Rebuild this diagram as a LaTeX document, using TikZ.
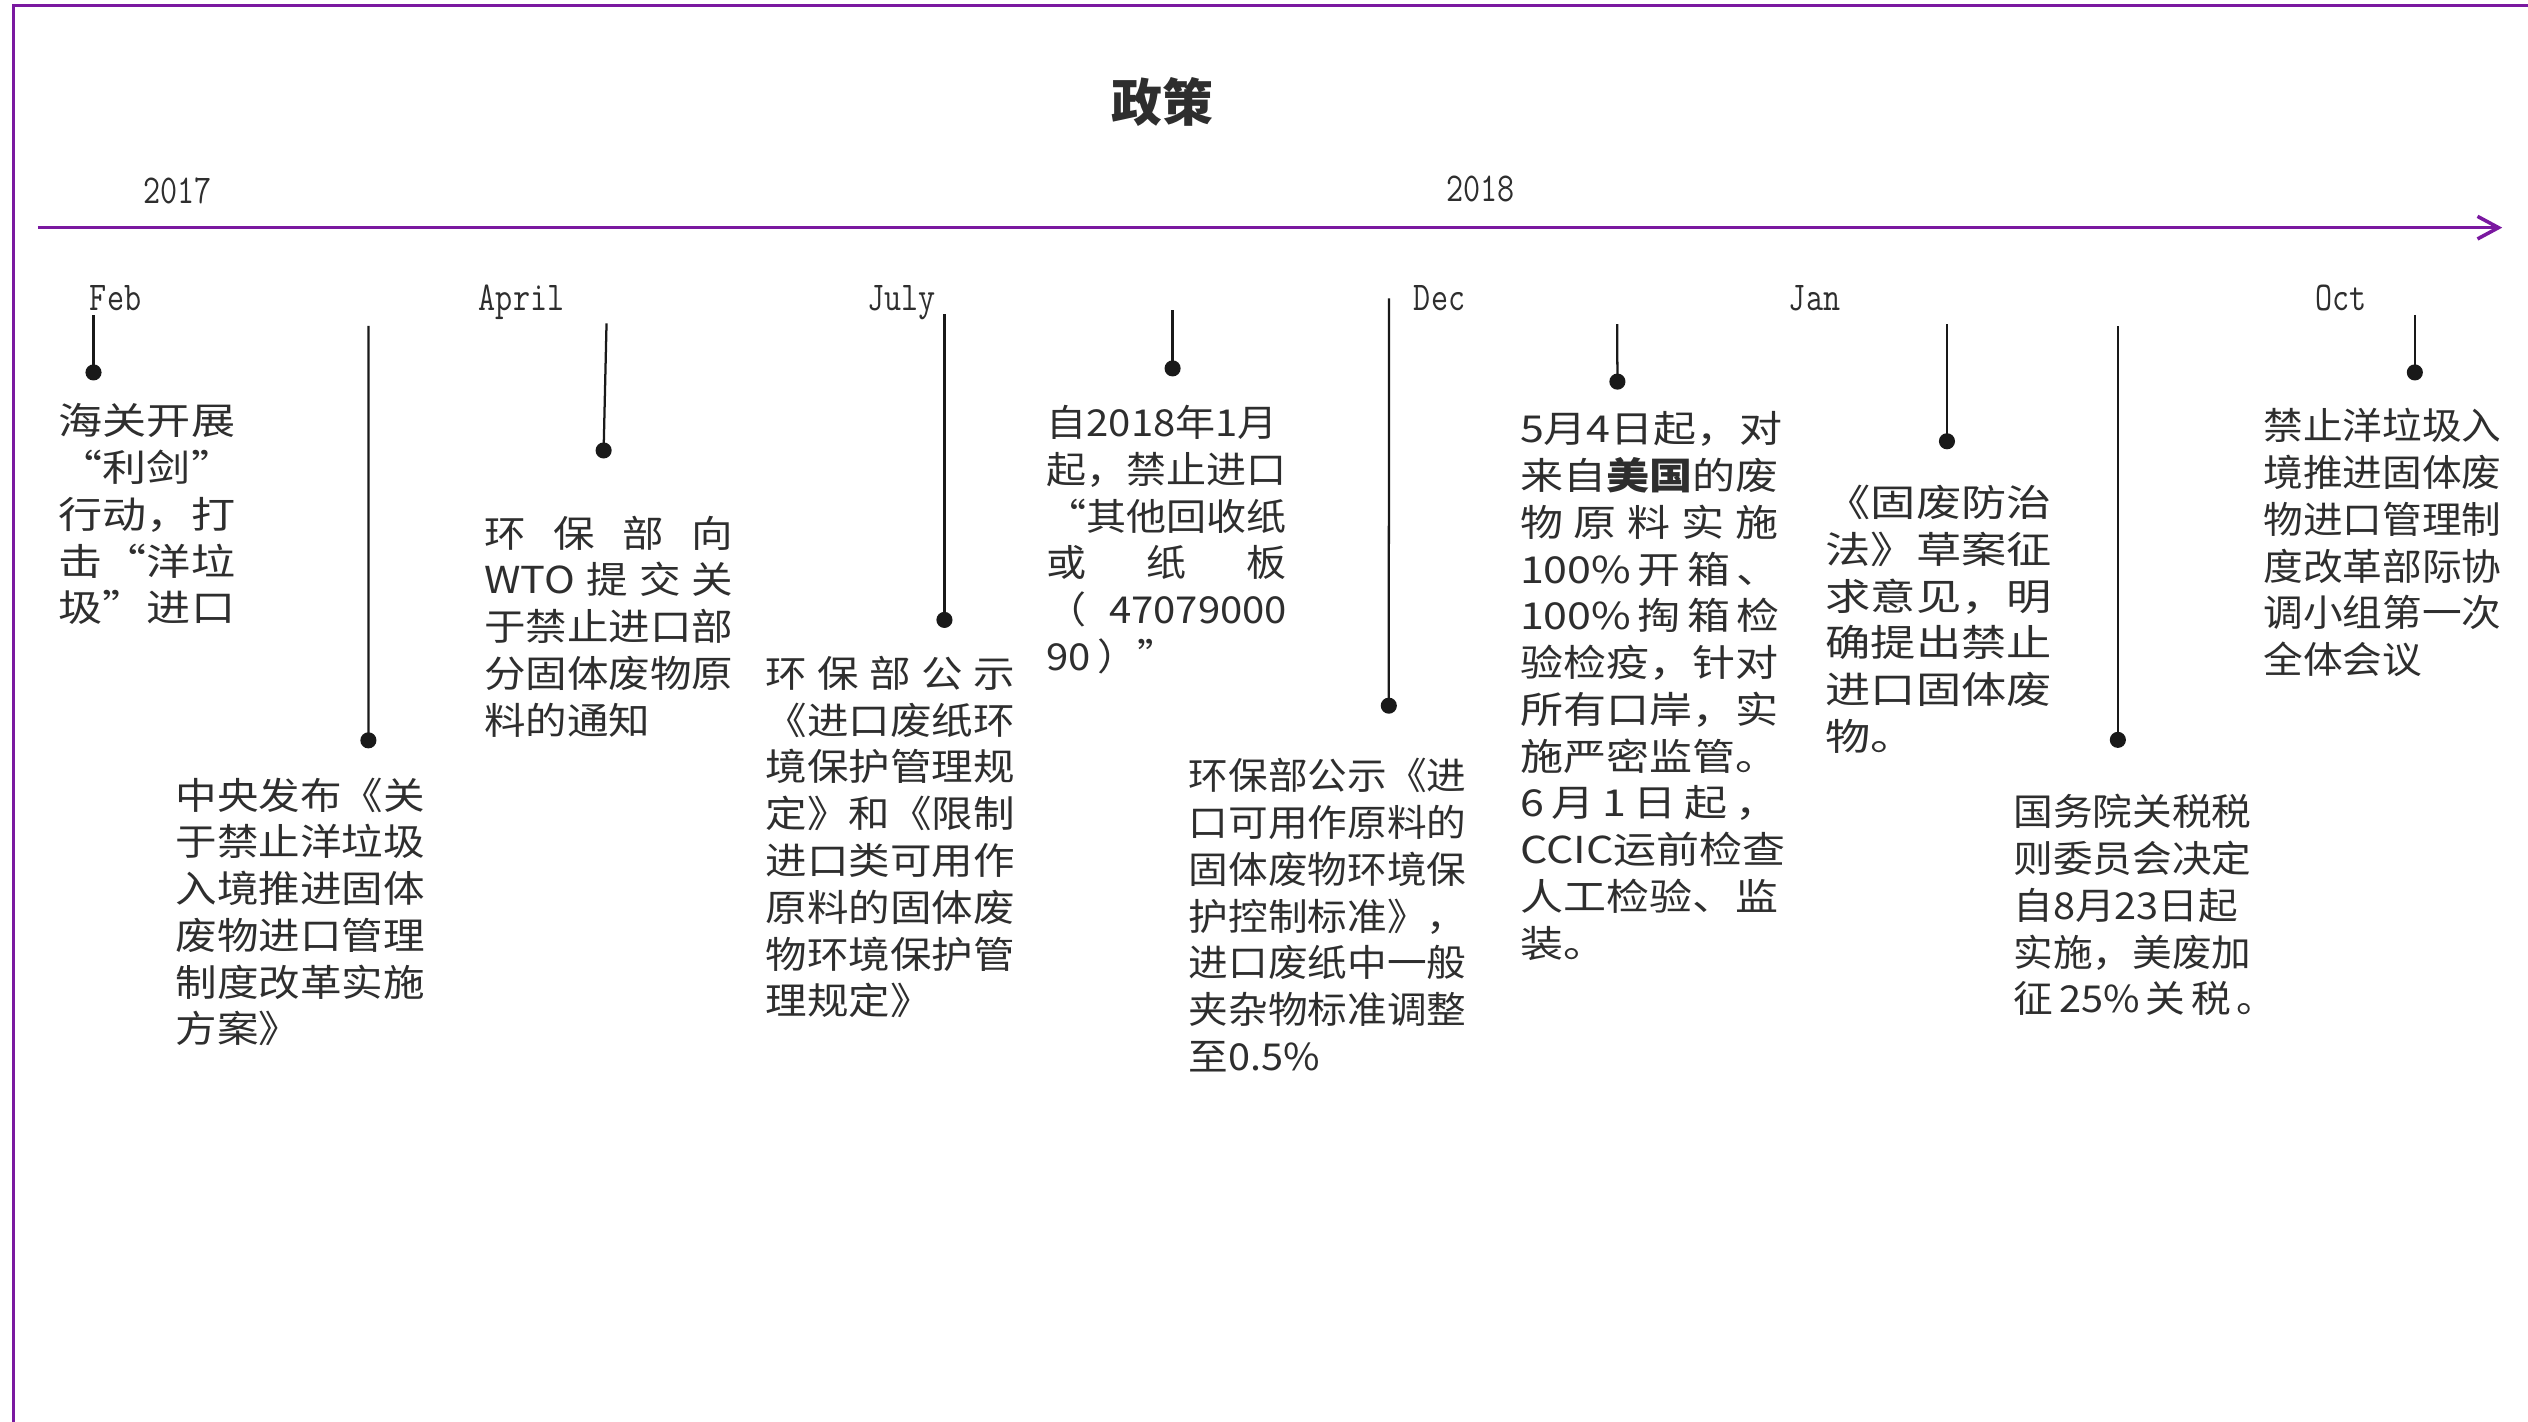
\documentclass[tikz,border=0pt]{standalone}
\usepackage{fontspec}
\usepackage{graphicx}
\usetikzlibrary{arrows.meta}
\newfontfamily\cjk{Noto Sans CJK SC}
\definecolor{framepurple}{RGB}{122,24,160}
\definecolor{txt}{HTML}{2E2E2E}
\newlength\cw
\newcommand\evfont[1]{\cjk\fontsize{11.5}{14.5}\selectfont\addfontfeatures{FakeStretch=#1}\settowidth\cw{国}}
\newcommand\spr[2]{\makebox[#1\cw][s]{#2}}
\newcommand\ql{\makebox[\cw][r]{“}}
\newcommand\qr{\makebox[\cw][l]{”}}
\newcommand\mon[1]{\scalebox{0.81}[1]{\ttfamily\fontsize{12.7}{14}\selectfont #1}}
\begin{document}
\begin{tikzpicture}[x=0.5pt,y=-0.5pt,
  frameline/.style={draw=framepurple, line width=0.9pt},
  axisline/.style={draw=framepurple, line width=1.1pt, -{Straight Barb[length=6.5pt,width=7pt]}},
  pin/.style={draw=black!90, line width=0.7pt},
  dot/.style={circle, fill=black!90, inner sep=0pt, minimum size=5pt},
  evtext/.style={anchor=north west, inner sep=0pt, align=left, text=txt},
  mlabel/.style={anchor=base west, inner sep=0pt, text=txt},
  title/.style={anchor=north, inner sep=0pt, text=txt, font=\cjk\bfseries\fontsize{15.8}{18}\selectfont}]
\useasboundingbox (0,0) rectangle (1568,882);
% frame
\coordinate (fbl) at (8.5,882);
\coordinate (ftl) at (8.5,3.2);
\coordinate (ftr) at (1568,3.2);
\draw[frameline] (fbl) -- (ftl) -- (ftr);
% title
\node[title] (ttl) at (720.8,47.6) {政策};
% axis
\coordinate (axL) at (23.5,141.2);
\coordinate (axR) at (1552,141.2);
\draw[axisline] (axL) -- (axR);
% years and months
\node[mlabel] (y17) at (88.5,126.1) {\mon{2017}};
\node[mlabel] (y18) at (896.6,125) {\mon{2018}};
\node[mlabel] (mFeb) at (55.4,192.3) {\mon{Feb}};
\node[mlabel] (mApr) at (296.6,192.3) {\mon{April}};
\node[mlabel] (mJul) at (537.7,192.3) {\mon{July}};
\node[mlabel] (mDec) at (876.6,192.3) {\mon{Dec}};
\node[mlabel] (mJan) at (1109.2,192.3) {\mon{Jan}};
\node[mlabel] (mOct) at (1435.7,192.3) {\mon{Oct}};
% pins
\coordinate (t1) at (58,195.4);    \node[dot] (d1) at (58,231) {};
\coordinate (t2) at (228.6,202.2); \node[dot] (d2) at (228.5,459.2) {};
\coordinate (t3) at (376.2,200.6); \node[dot] (d3) at (374.4,279.4) {};
\coordinate (t4) at (585.8,194.8); \node[dot] (d4) at (585.8,384.5) {};
\coordinate (t5) at (727.3,192.3); \node[dot] (d5) at (727.3,228.5) {};
\coordinate (t6) at (861.5,185);   \node[dot] (d6) at (861.4,437.7) {};
\coordinate (t7) at (1003.1,201);  \node[dot] (d7) at (1003.2,236.7) {};
\coordinate (t8) at (1207.6,201);  \node[dot] (d8) at (1207.6,273.7) {};
\coordinate (t9) at (1313.6,202.5);\node[dot] (d9) at (1313.6,458.9) {};
\coordinate (t10) at (1497.8,195.3);\node[dot] (d10) at (1497.8,231) {};
\foreach \i in {1,...,10} {\draw[pin] (t\i) -- (d\i.center);}
% event texts
\node[evtext, font=\evfont{1.19}] (e1) at (36,250) {海关开展\\ \ql 利剑\qr\\ 行动，打\\ 击\ql 洋垃\\ 圾\qr 进口};
\node[evtext, font=\evfont{1.12}] (e2) at (108.5,482) {中央发布《关\\ 于禁止洋垃圾\\ 入境推进固体\\ 废物进口管理\\ 制度改革实施\\ 方案》};
\node[evtext, font=\evfont{1.12}] (e3) at (300,319.5) {\spr{6}{环 保 部 向}\\ \spr{6}{WTO 提 交 关}\\ 于禁止进口部\\ 分固体废物原\\ 料的通知};
\node[evtext, font=\evfont{1.12}] (e4) at (474.4,406.6) {\spr{6}{环 保 部 公 示}\\ 《进口废纸环\\ 境保护管理规\\ 定》和《限制\\ 进口类可用作\\ 原料的固体废\\ 物环境保护管\\ 理规定》};
\node[evtext, font=\evfont{1.08}] (e5) at (648.8,251) {自2018年1月\\ 起，禁止进口\\ \ql 其他回收纸\\ \spr{6}{或 纸 板}\\ \spr{6}{（ 47079000}\\ 90\,）”};
\node[evtext, font=\evfont{1.07}] (e6) at (736.9,470) {环保部公示《进\\ 口可用作原料的\\ 固体废物环境保\\ 护控制标准》，\\ 进口废纸中一般\\ 夹杂物标准调整\\ 至0.5\%};
\node[evtext, font=\evfont{1.16}] (e7) at (942.4,255) {5月4日起，对\\ 来自{\bfseries 美国}的废\\ \spr{6}{物 原 料 实 施}\\ \spr{6}{100\% 开 箱 、}\\ \spr{6}{100\% 掏 箱 检}\\ 验检疫，针对\\ 所有口岸，实\\ 施严密监管。\\ \spr{6}{6 月 1 日 起 ，}\\ CCIC运前检查\\ 人工检验、监\\ 装。};
\node[evtext, font=\evfont{1.22}] (e8) at (1132,300.6) {《固废防治\\ 法》草案征\\ 求意见，明\\ 确提出禁止\\ 进口固体废\\ 物。};
\node[evtext, font=\evfont{1.07}] (e9) at (1248.5,492.4) {国务院关税税\\ 则委员会决定\\ 自8月23日起\\ 实施，美废加\\ \spr{6}{征 25\% 关 税 。}};
\node[evtext, font=\evfont{1.07}] (e10) at (1403.5,253) {禁止洋垃圾入\\ 境推进固体废\\ 物进口管理制\\ 度改革部际协\\ 调小组第一次\\ 全体会议};
\end{tikzpicture}
\end{document}
